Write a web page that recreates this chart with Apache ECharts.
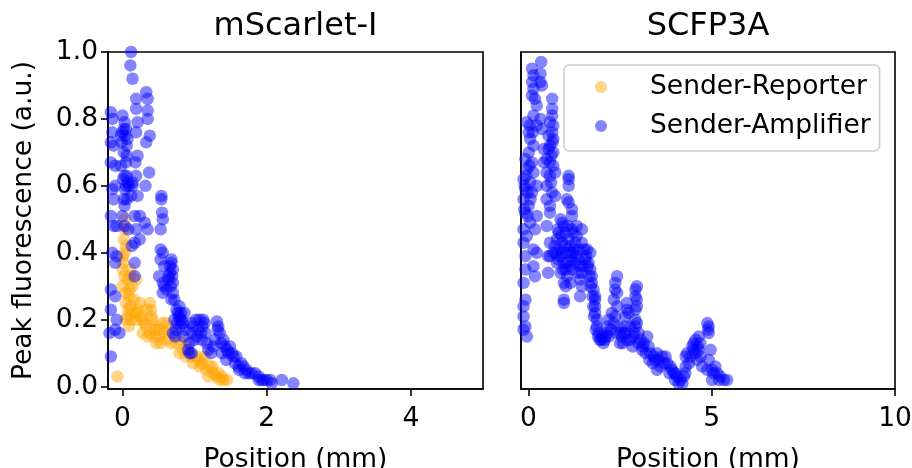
<!DOCTYPE html>
<html>
<head>
<meta charset="utf-8">
<script src="https://cdn.jsdelivr.net/npm/echarts@6/dist/echarts.min.js"></script>
<style>html,body{margin:0;padding:0;background:#fff}#c{width:912px;height:468px}</style>
</head>
<body>
<div id="c"></div>
<script>
const titles = ['mScarlet-I', 'SCFP3A'];
const seriesNames = ['Sender-Reporter', 'Sender-Amplifier'];
const yTicks = [0, 0.2, 0.4, 0.6, 0.8, 1.0];
const xTicksLeft = [0, 2, 4];
const xTicksRight = [0, 5, 10];

const reporterLeft = [
[0.03,0.50],[0.03,0.47],[0.02,0.44],[0.05,0.42],[0.03,0.40],[0.01,0.37],[0.0,0.35],[0.03,0.33],[0.07,0.32],[0.11,0.33],[0.19,0.32],[0.14,0.30],[0.0,0.30],[0.05,0.28],[0.09,0.27],[0.16,0.26],[0.05,0.25],[0.11,0.24],[0.24,0.25],[0.38,0.25],[0.33,0.23],[0.19,0.22],[0.07,0.21],[0.05,0.20],[0.09,0.18],[0.19,0.20],[0.28,0.20],[0.40,0.21],[0.42,0.20],[0.33,0.18],[0.28,0.16],[0.38,0.16],[0.44,0.15],[0.51,0.17],[0.56,0.19],[0.61,0.19],[0.47,0.13],[0.53,0.13],[0.61,0.14],[0.68,0.13],[0.75,0.13],[0.81,0.14],[0.84,0.11],[0.88,0.09],[0.96,0.09],[1.02,0.09],[1.07,0.08],[1.14,0.09],[1.07,0.06],[1.16,0.05],[1.21,0.06],[1.26,0.04],[1.33,0.04],[1.38,0.03],[1.40,0.02],[1.45,0.02],[1.35,0.02],[1.19,0.03],[-0.07,0.03],[0.11,0.35],[0.40,0.23],[0.47,0.18],[0.66,0.17],[0.79,0.10],[0.98,0.07],
[0.22,0.23],[0.26,0.21],[0.30,0.19],[0.35,0.15],[0.45,0.17],[0.52,0.15],[0.58,0.16],[0.15,0.22],[0.12,0.20],[0.01,0.39],[0.10,0.29],[0.08,0.23],[0.90,0.12],[1.10,0.07],[1.30,0.03],[1.25,0.06]
];

const amplifierLeft = [
[0.12,1.0],[0.11,0.96],[0.14,0.92],[0.19,0.86],[0.19,0.83],[0.33,0.88],[0.35,0.86],[0.35,0.825],[0.35,0.80],[0.38,0.75],[0.33,0.73],[0.37,0.64],[0.32,0.60],[0.21,0.79],[0.19,0.76],[0.21,0.69],[0.18,0.67],[0.19,0.63],[0.14,0.61],[0.21,0.57],[0.24,0.51],[0.17,0.51],[0.31,0.49],[0.35,0.47],[0.19,0.47],[0.24,0.44],[0.17,0.43],[0.17,0.37],[0.17,0.33],
[-0.16,0.82],[-0.14,0.80],[-0.14,0.76],[-0.16,0.73],[-0.12,0.72],[-0.16,0.67],[-0.10,0.66],[-0.14,0.59],[-0.12,0.56],[-0.10,0.60],[-0.16,0.51],[-0.12,0.48],[-0.08,0.48],[-0.14,0.40],[-0.08,0.39],[-0.10,0.37],[-0.16,0.29],[-0.10,0.27],[-0.16,0.23],[-0.08,0.20],[-0.10,0.17],[-0.18,0.16],[-0.16,0.09],
[0.0,0.81],[0.03,0.79],[0.0,0.76],[-0.02,0.75],[0.05,0.77],[-0.01,0.73],[0.06,0.72],[0.02,0.70],[0.06,0.69],[0.05,0.67],[-0.02,0.66],[0.03,0.63],[0.06,0.63],[0.01,0.62],[0.04,0.59],[0.02,0.56],[0.03,0.54],[0.0,0.51],[0.03,0.48],[0.08,0.47],[0.13,0.42],[-0.04,0.16],[0.14,0.60],[0.12,0.57],[0.06,0.56],
[0.02,0.77],[0.04,0.75],[0.07,0.74],[0.07,0.61],[0.09,0.60],[0.05,0.60],
[0.54,0.57],[0.54,0.56],[0.55,0.52],[0.56,0.50],[0.53,0.47],[0.53,0.41],[0.56,0.40],[0.53,0.38],[0.58,0.36],[0.51,0.33],[0.56,0.31],[0.58,0.30],[0.56,0.28],
[0.68,0.38],[0.68,0.37],[0.70,0.35],[0.66,0.34],[0.64,0.32],[0.64,0.33],[0.70,0.31],[0.61,0.29],[0.70,0.28],[0.68,0.26],[0.72,0.26],
[0.79,0.24],[0.81,0.22],[0.75,0.23],[0.72,0.20],[0.86,0.22],[0.81,0.18],[0.70,0.16],[0.88,0.17],[0.96,0.19],[0.96,0.16],[0.93,0.13],[0.91,0.11],[0.96,0.10],[1.02,0.20],[1.07,0.20],[1.05,0.17],[1.0,0.14],[1.12,0.20],[1.14,0.19],[1.09,0.16],[1.17,0.13],[1.19,0.11],[1.26,0.12],[1.31,0.195],[1.33,0.18],[1.35,0.16],[1.40,0.14],[1.42,0.12],[1.49,0.12],[1.52,0.10],[1.54,0.09],[1.58,0.09],[1.56,0.07],[1.61,0.06],[1.68,0.06],[1.72,0.05],[1.79,0.04],[1.84,0.04],[1.89,0.03],[1.96,0.02],[2.0,0.02],[2.05,0.02],[1.89,0.02],[2.21,0.02],[2.37,0.01],[2.07,0.01],[1.44,0.08],[1.23,0.10],[0.93,0.10],
[0.78,0.21],[0.76,0.19],[0.74,0.17],[0.82,0.20],[0.84,0.19],[0.73,0.15],[0.85,0.15],[1.10,0.14],[1.15,0.16],[1.28,0.14],[1.38,0.10],[1.47,0.10],[1.65,0.07],[1.75,0.04],
[0.66,0.36],[0.69,0.33],[0.67,0.30],[0.77,0.22],[0.80,0.20],[0.98,0.18],[1.03,0.15],[1.11,0.18],[1.32,0.17],[1.37,0.13],[1.45,0.11],[1.62,0.05],[1.70,0.04],[1.93,0.02]
];

const amplifierRight = [
[0.35,0.97],[0.10,0.95],[0.14,0.93],[0.33,0.935],[0.10,0.91],[0.33,0.91],[0.37,0.90],[0.14,0.89],[0.10,0.87],[0.18,0.86],[0.23,0.84],
[0.65,0.86],[0.65,0.83],[0.65,0.81],[0.59,0.79],[0.68,0.78],[0.65,0.76],[0.55,0.75],[0.68,0.74],[0.59,0.72],[0.55,0.71],[0.68,0.70],[0.50,0.68],[0.59,0.67],[0.68,0.66],[0.50,0.64],[0.59,0.63],[0.73,0.64],[0.50,0.60],[0.65,0.58],[0.73,0.57],[0.50,0.56],[0.59,0.54],
[-0.04,0.79],[0.01,0.76],[0.14,0.81],[0.23,0.78],[0.33,0.80],[0.37,0.77],[0.05,0.74],[0.14,0.72],[0.01,0.70],[-0.08,0.68],[0.10,0.67],[-0.04,0.65],[0.14,0.64],[-0.13,0.62],[0.05,0.61],[-0.08,0.59],[0.10,0.58],[-0.13,0.56],[0.01,0.54],[0.23,0.60],[0.23,0.51],[-0.08,0.52],[0.05,0.49],[-0.13,0.47],[-0.04,0.45],[0.18,0.47],[-0.13,0.43],[0.14,0.41],[0.23,0.40],[-0.08,0.39],[0.14,0.36],[-0.08,0.35],[0.18,0.33],[-0.13,0.31],[-0.08,0.26],[-0.13,0.24],[-0.13,0.21],[-0.08,0.18],[-0.13,0.17],[-0.04,0.15],
[0.42,0.71],[0.42,0.67],[0.59,0.52],[0.50,0.48],[0.54,0.39],
[-0.10,0.60],[-0.06,0.63],[-0.02,0.58],[0.03,0.66],[-0.11,0.53],[-0.02,0.51],[0.06,0.56],[0.12,0.76],[0.04,0.78],[0.63,0.69],[0.62,0.61],[0.66,0.73],
[1.10,0.63],[1.10,0.62],[1.10,0.60],[1.05,0.56],[1.10,0.55],[1.19,0.53],[1.19,0.51],[0.88,0.50],[0.97,0.48],[0.83,0.46],[1.02,0.46],[0.78,0.44],[0.92,0.43],[1.10,0.44],[1.23,0.46],[1.32,0.48],[1.46,0.47],[1.32,0.45],[1.46,0.43],[1.60,0.41],[1.69,0.40],
[0.59,0.43],[0.68,0.40],[0.59,0.39],[0.88,0.39],[0.97,0.37],[0.78,0.37],[1.02,0.35],[0.88,0.34],[1.06,0.33],[0.97,0.31],[1.02,0.30],[0.97,0.26],[0.97,0.25],[0.54,0.34],
[1.14,0.40],[1.19,0.38],[1.28,0.37],[1.37,0.38],[1.41,0.36],[1.46,0.34],[1.41,0.32],[1.46,0.30],[1.41,0.27],
[0.80,0.47],[0.90,0.45],[1.00,0.42],[1.05,0.40],[1.15,0.42],[1.25,0.41],[1.30,0.39],[1.20,0.35],[1.35,0.34],[1.55,0.38],[1.50,0.36],[1.05,0.37],[0.85,0.41],[0.75,0.40],[0.95,0.35],[1.15,0.31],
[0.93,0.49],[1.08,0.48],[1.18,0.47],[1.28,0.43],[0.72,0.42],[0.82,0.38],[0.92,0.40],[1.12,0.36],[1.22,0.40],[1.38,0.41],[1.52,0.41],[1.58,0.39],[1.62,0.36],[1.66,0.33],[1.70,0.30],[1.75,0.27],[1.77,0.24],[1.79,0.21],[1.84,0.17],[1.90,0.15],[1.98,0.14],[2.08,0.14],[2.14,0.16],
[1.64,0.37],[1.69,0.35],[1.73,0.33],[1.73,0.31],[1.78,0.29],[1.82,0.27],[1.82,0.26],[1.82,0.24],[1.82,0.22],[1.87,0.20],[1.87,0.18],[1.92,0.16],[2.01,0.15],[2.10,0.15],[2.19,0.15],[2.15,0.18],[2.19,0.20],[2.28,0.22],[2.33,0.26],[2.37,0.29],[2.37,0.31],[2.42,0.33],[2.42,0.28],[2.42,0.24],[2.37,0.21],[2.46,0.18],[2.51,0.16],[2.55,0.15],[2.60,0.16],[2.64,0.18],[2.64,0.21],[2.69,0.23],[2.69,0.25],[2.73,0.22],[2.78,0.18],[2.78,0.14],[2.87,0.15],[2.92,0.18],[2.92,0.20],[2.92,0.23],[2.92,0.27],[2.92,0.29],[2.96,0.30],[2.96,0.26],[2.96,0.24],[2.96,0.19],[3.01,0.16],[3.06,0.14],[3.15,0.13],[3.24,0.15],[3.28,0.12],[3.33,0.10],[3.42,0.09],[3.51,0.10],[3.56,0.08],[3.51,0.05],[3.65,0.09],[3.74,0.09],[3.79,0.07],[3.88,0.06],[3.97,0.04],[4.06,0.03],[4.15,0.02],[4.24,0.03],[4.29,0.06],[4.29,0.09],[4.33,0.10],[4.42,0.09],[4.51,0.11],[4.51,0.13],[4.56,0.14],[4.65,0.15],[4.69,0.13],[4.65,0.11],[4.60,0.08],[4.74,0.06],[4.88,0.19],[4.92,0.18],[4.92,0.16],[4.97,0.11],[4.92,0.08],[4.88,0.05],[5.01,0.05],[5.10,0.06],[5.15,0.04],[5.24,0.03],[5.33,0.02],[5.42,0.02],[5.01,0.02],
[1.95,0.14],[2.05,0.13],[2.25,0.17],[2.50,0.13],[2.70,0.14],[3.10,0.11],[3.20,0.10],[3.40,0.07],[3.60,0.06],[3.85,0.04],[4.00,0.02],[4.10,0.01],[4.20,0.01],[4.38,0.07],[4.55,0.10],[4.70,0.09],
[2.33,0.19],[2.40,0.16],[2.58,0.13],[2.68,0.16],[2.84,0.12],[2.89,0.16],[3.00,0.13],[3.12,0.12],[3.30,0.08],[3.46,0.08],[3.70,0.07],[3.92,0.05],[4.02,0.04],[4.28,0.04],[4.47,0.12],[4.62,0.12],[4.90,0.17],[5.05,0.04],[5.20,0.02]
];

const chart = echarts.init(document.getElementById('c'), null, {renderer: 'canvas'});
const FONT = 'DejaVu Sans';
const ORANGE = 'rgba(255,165,0,0.6)';
const BLUE = 'rgba(0,0,255,0.6)';

function xAxisCfg(idx, min, max, ticks) {
  return {
    type: 'value', gridIndex: idx, min: min, max: max,
    name: 'Position (mm)', nameLocation: 'middle', nameGap: 58,
    nameTextStyle: {fontFamily: FONT, fontSize: 26.5, color: '#000'},
    axisLine: {show: true, onZero: false, lineStyle: {color: '#000', width: 1.6}},
    axisTick: {show: true, length: 7, inside: false, customValues: ticks, lineStyle: {color: '#000', width: 1.6}},
    axisLabel: {show: true, customValues: ticks, margin: 17, fontFamily: FONT, fontSize: 26.5, color: '#000'},
    splitLine: {show: false}
  };
}
function yAxisCfg(idx, showLabels) {
  return {
    type: 'value', gridIndex: idx, min: -0.007, max: 1.0,
    name: showLabels ? 'Peak fluorescence (a.u.)' : '', nameLocation: 'middle', nameGap: 70,
    nameTextStyle: {fontFamily: FONT, fontSize: 26.5, color: '#000'},
    axisLine: {show: true, onZero: false, lineStyle: {color: '#000', width: 1.6}},
    axisTick: {show: showLabels, length: 7, customValues: yTicks, lineStyle: {color: '#000', width: 1.6}},
    axisLabel: {show: showLabels, customValues: yTicks, margin: 10, fontFamily: FONT, fontSize: 26.5, color: '#000',
      formatter: v => v.toFixed(1)},
    splitLine: {show: false}
  };
}

const option = {
  animation: false,
  backgroundColor: '#fff',
  textStyle: {fontFamily: FONT},
  grid: [
    {left: 108, top: 52, width: 375, height: 337, outerBoundsMode: 'none', containLabel: false, show: true, borderColor: '#000', borderWidth: 1.6, backgroundColor: 'transparent'},
    {left: 521, top: 52, width: 374, height: 337, outerBoundsMode: 'none', containLabel: false, show: true, borderColor: '#000', borderWidth: 1.6, backgroundColor: 'transparent'}
  ],
  xAxis: [xAxisCfg(0, -0.2, 5, xTicksLeft), xAxisCfg(1, -0.2, 10, xTicksRight)],
  yAxis: [yAxisCfg(0, true), yAxisCfg(1, false)],
  legend: {
    data: seriesNames,
    orient: 'vertical', left: 564, top: 65,
    padding: [7, 9, 10, 31], itemGap: 9,
    itemWidth: 12, itemHeight: 12, icon: 'circle',
    backgroundColor: 'rgba(255,255,255,0.8)', borderColor: '#cccccc', borderWidth: 1.5, borderRadius: 5,
    textStyle: {fontFamily: FONT, fontSize: 26.5, color: '#000', lineHeight: 30, padding: [0, 0, 0, 38]}
  },
  graphic: [
    {type: 'text', x: 295.5, y: 27, style: {text: titles[0], fontFamily: FONT, fontSize: 32, fill: '#000', textAlign: 'center', textVerticalAlign: 'middle'}},
    {type: 'text', x: 708, y: 27, style: {text: titles[1], fontFamily: FONT, fontSize: 32, fill: '#000', textAlign: 'center', textVerticalAlign: 'middle'}}
  ],
  series: [
    {name: seriesNames[0], type: 'scatter', xAxisIndex: 0, yAxisIndex: 0, data: reporterLeft, symbolSize: 12.5, itemStyle: {color: ORANGE}},
    {name: seriesNames[1], type: 'scatter', xAxisIndex: 0, yAxisIndex: 0, data: amplifierLeft, symbolSize: 12.5, itemStyle: {color: BLUE}},
    {name: seriesNames[1], type: 'scatter', xAxisIndex: 1, yAxisIndex: 1, data: amplifierRight, symbolSize: 12.5, itemStyle: {color: BLUE}}
  ]
};
chart.setOption(option);
</script>
</body>
</html>
